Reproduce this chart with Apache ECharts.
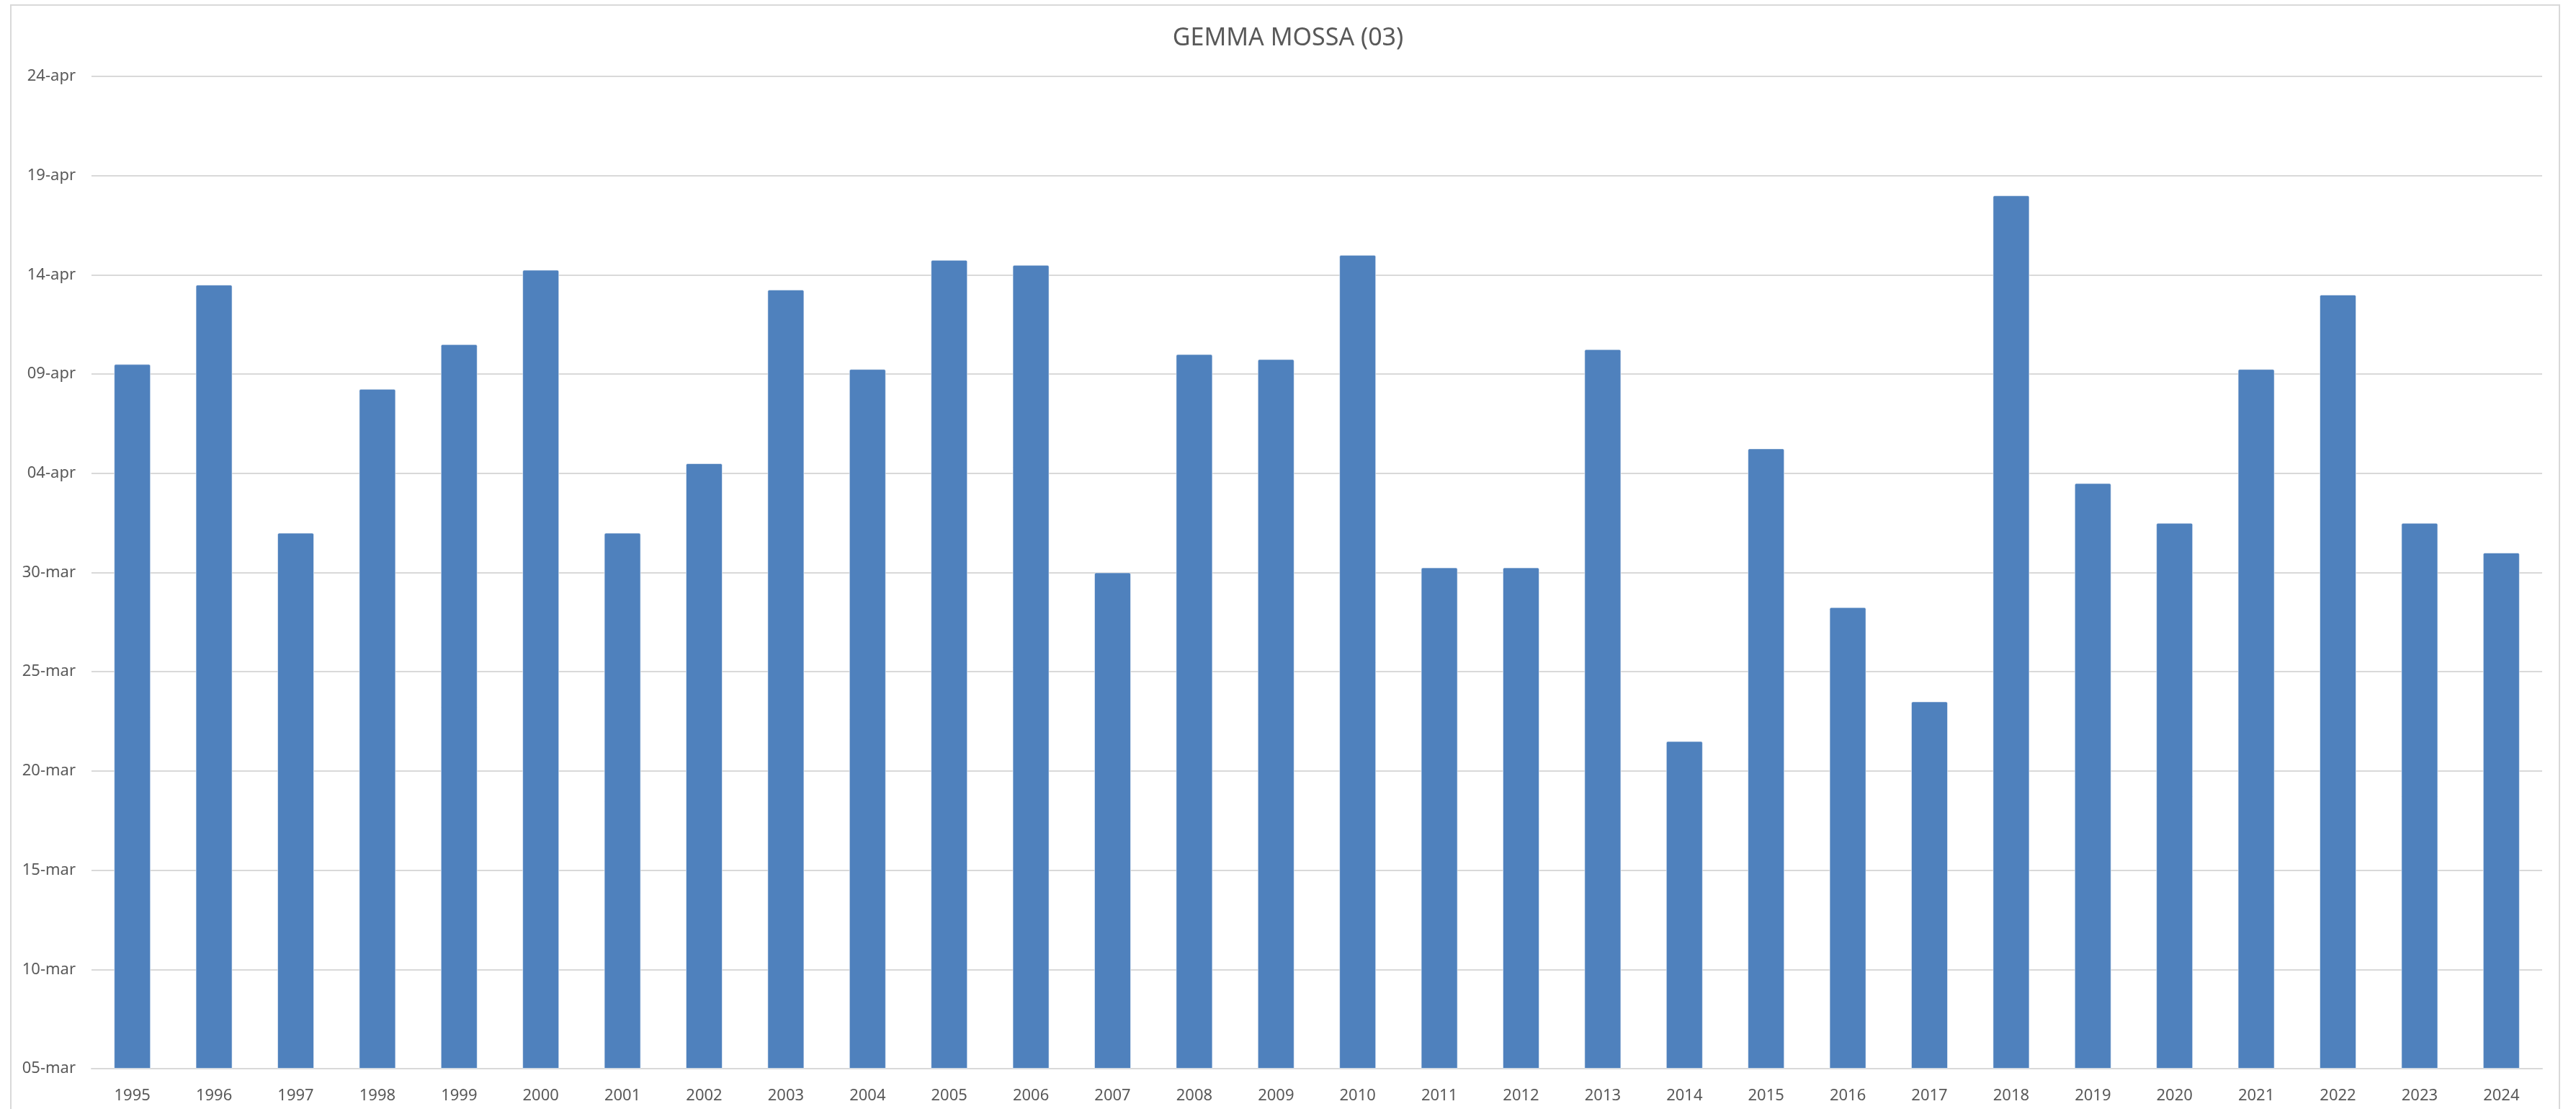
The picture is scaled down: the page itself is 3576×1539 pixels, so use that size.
<!DOCTYPE html>
<html>
<head>
<meta charset="utf-8">
<title>GEMMA MOSSA (03)</title>
<script src="https://cdn.jsdelivr.net/npm/echarts@6/dist/echarts.min.js"></script>
<style>
  html, body { margin: 0; padding: 0; background: #fff; }
  #chart { width: 3576px; height: 1539px; }
</style>
</head>
<body>
<div id="chart"></div>
<script>
// years on the x axis
const years = ['1995', '1996', '1997', '1998', '1999', '2000', '2001', '2002', '2003', '2004',
  '2005', '2006', '2007', '2008', '2009', '2010', '2011', '2012', '2013', '2014',
  '2015', '2016', '2017', '2018', '2019', '2020', '2021', '2022', '2023', '2024']

// bud break date, as days after 05-mar
const budDays = [35.5, 39.5, 27, 34.25, 36.5, 40.25, 27, 30.5, 39.25, 35.25,
  40.75, 40.5, 25, 36, 35.75, 41, 25.25, 25.25, 36.25, 16.5,
  31.25, 23.25, 18.5, 44, 29.5, 27.5, 35.25, 39, 27.5, 26]

// y tick labels, one every 5 days starting at 05-mar
const dateTicks = ['05-mar', '10-mar', '15-mar', '20-mar', '25-mar', '30-mar',
  '04-apr', '09-apr', '14-apr', '19-apr', '24-apr']

const chart = echarts.init(document.getElementById('chart'))

const option = {
  animation: false,
  backgroundColor: '#fff',
  title: {
    text: 'GEMMA MOSSA (03)',
    left: 'center',
    top: 31,
    textStyle: { fontFamily: 'Noto Sans', fontSize: 34, fontWeight: 'normal', color: '#595959' }
  },
  graphic: [
    {
      type: 'rect',
      shape: { x: 15, y: 7, width: 3538, height: 1560 },
      style: { fill: 'none', stroke: '#d9d9d9', lineWidth: 2 },
      silent: true
    }
  ],
  grid: { left: 127, right: 47, top: 106, bottom: 56 },
  xAxis: {
    type: 'category',
    data: years,
    axisTick: { show: false },
    axisLine: { lineStyle: { color: '#d9d9d9', width: 2 } },
    axisLabel: { fontFamily: 'Noto Sans', fontSize: 22, color: '#595959', margin: 27 }
  },
  yAxis: {
    type: 'value',
    min: 0,
    max: 50,
    interval: 5,
    axisLine: { show: false },
    axisTick: { show: false },
    splitLine: { lineStyle: { color: '#d9d9d9', width: 2 } },
    axisLabel: {
      fontFamily: 'Noto Sans',
      fontSize: 22,
      color: '#595959',
      margin: 22,
      formatter: v => dateTicks[Math.round(v / 5)]
    }
  },
  series: [
    {
      type: 'bar',
      data: budDays,
      barWidth: '45%',
      itemStyle: {
        color: '#4f81bd',
        borderColor: 'rgba(255,255,255,0.55)',
        borderWidth: 1,
        borderRadius: [2, 2, 0, 0]
      }
    }
  ]
}

chart.setOption(option)
window.addEventListener('resize', () => chart?.resize())
</script>
</body>
</html>
